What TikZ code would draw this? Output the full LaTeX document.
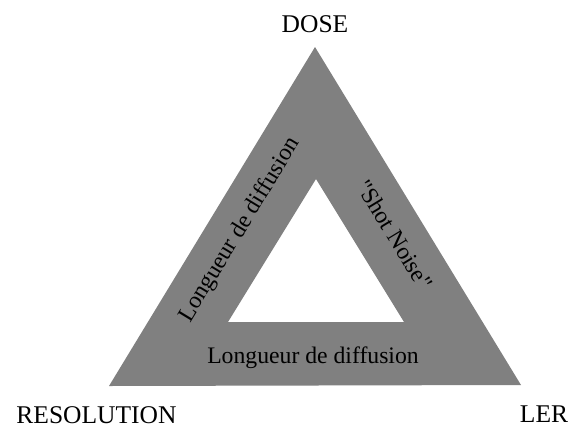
\documentclass[tikz,border=0pt]{standalone}
\usepackage{fontspec}
\setmainfont{Liberation Serif}
\newfontfamily\plainserif{Liberation Serif}
\definecolor{bandgray}{HTML}{808080}
\begin{document}
\begin{tikzpicture}[x=1pt,y=-1pt,
  corner/.style={inner sep=0pt,anchor=base,font=\fontsize{25.5}{30}\selectfont},
  bandlabel/.style={inner sep=0pt,anchor=base,font=\fontsize{23.7}{28}\selectfont}]
\useasboundingbox (0,0) rectangle (572,426);
\coordinate (oA) at (315,47);
\coordinate (oB) at (109,386);
\coordinate (oC) at (521,385);
\coordinate (iA) at (316,179);
\coordinate (iB) at (228,322);
\coordinate (iC) at (404,322);
\fill[bandgray,even odd rule] (oA) -- (oB) -- (oC) -- cycle (iA) -- (iB) -- (iC) -- cycle;
\node[corner] (dose) at (315,32) {DOSE};
\node[corner] (res) at (96.5,423) {RESOLUTION};
\node[corner] (ler) at (544,422) {LER};
\node[bandlabel] (bot) at (313,363) {Longueur de diffusion};
\node[bandlabel,rotate=58.7] (left) at (245,233) {Longueur de diffusion};
\node[bandlabel,rotate=-58.7,font=\fontsize{23.7}{28}\plainserif] (right) at (388,239) {"Shot Noise"};
\end{tikzpicture}
\end{document}
